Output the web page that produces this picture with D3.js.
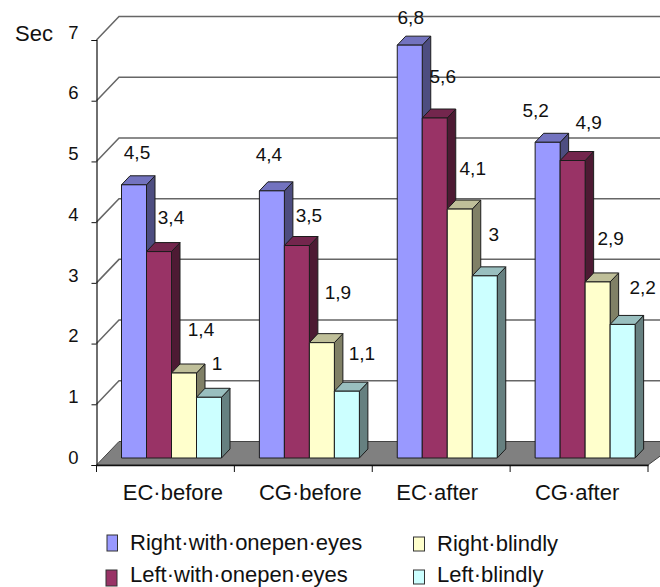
<!DOCTYPE html>
<html>
<head>
<meta charset="utf-8">
<script src="https://cdn.jsdelivr.net/npm/d3@7"></script>
<style>
html,body{margin:0;padding:0;background:#fff;overflow:hidden}
svg{display:block}
text{font-family:"Liberation Sans",Arial,sans-serif;fill:#111}
</style>
</head>
<body>
<div id="chart"></div>
<script>
// Data
const categories = ["EC·before", "CG·before", "EC·after", "CG·after"];
const seriesNames = ["Right·with·onepen·eyes", "Left·with·onepen·eyes", "Right·blindly", "Left·blindly"];
const rightOpen = [4.5, 4.4, 6.8, 5.2];
const leftOpen = [3.4, 3.5, 5.6, 4.9];
const rightBlind = [1.4, 1.9, 4.1, 2.9];
const leftBlind = [1, 1.1, 3, 2.2];
const yTicks = [0, 1, 2, 3, 4, 5, 6, 7];
const seriesValues = [rightOpen, leftOpen, rightBlind, leftBlind];

// Style
const frontColors = ["#9999FF", "#993366", "#FFFFCC", "#CCFFFF"];
// Hand-placed data label offsets from the bar's top centre [series][category]
const labelNudge = [
  [[3,-33],[-3,-37],[1,-28],[-12,-32]],
  [[12,-34],[12,-30],[8,-42],[16,-38]],
  [[17,-44],[16,-50],[13,-41],[13,-44]],
  [[8,-34],[15,-38],[9,-42],[20,-37]]
];
const categoryLabelNudge = [7.5, 7, -4, -2];

const W = 660, H = 587;
const svg = d3.select("#chart").append("svg").attr("width", W).attr("height", H);

const axisX0 = 96.5, axisX1 = 648, axisY0 = 465, axisY7 = 40;
const wallDx = 22.5, wallDy = 23.5;   // oblique shift floor front → back wall
const barDx = 8.5, barDy = 9, barLift = 7, barInset = 25, barsWide = 100;

const x = d3.scaleBand().domain(categories).range([axisX0, axisX1]);
const xS = d3.scaleBand().domain(d3.range(4)).range([0, barsWide]);
const y = d3.scaleLinear().domain([0, 7]).range([axisY0, axisY7]);

// Gridlines: oblique stub on the side wall + horizontal line on the back wall
const grid = svg.append("g");
grid.selectAll("path").data(yTicks.filter(d => d > 0)).join("path")
  .attr("fill", "none").attr("stroke", "#666").attr("stroke-width", 1.5)
  .attr("d", d => `M${axisX0},${y(d)}L${axisX0 + wallDx},${y(d) - wallDy}L${W + 5},${y(d) - wallDy}`);

// Floor
svg.append("path")
  .attr("fill", "#808080").attr("stroke", "#444").attr("stroke-width", 1)
  .attr("d", `M${axisX0},${axisY0}L${axisX0 + wallDx},${axisY0 - wallDy}L${W + 20},${axisY0 - wallDy}L${axisX1},${axisY0}Z`);

// Bars
const flat = [];
seriesValues.forEach((vals, s) => vals.forEach((v, c) => flat.push({s, c, v})));
const barLeft = d => x(categories[d.c]) + barInset + xS(d.s);
const barRight = d => barLeft(d) + xS.bandwidth();
const barTop = d => y(d.v) - barLift;
const barBase = axisY0 - barLift;

const barG = svg.append("g").selectAll("g").data(flat.slice().sort((a, b) => a.c - b.c || a.s - b.s)).join("g")
  .attr("stroke", "#1c1c1c").attr("stroke-width", 1).attr("stroke-linejoin", "round");
barG.append("path") // side
  .attr("fill", d => { const c = d3.rgb(frontColors[d.s]); return d3.rgb(c.r * .5, c.g * .5, c.b * .5); })
  .attr("d", d => `M${barRight(d)},${barTop(d)}L${barRight(d) + barDx},${barTop(d) - barDy}L${barRight(d) + barDx},${barBase - barDy}L${barRight(d)},${barBase}Z`);
barG.append("path") // top
  .attr("fill", d => { const c = d3.rgb(frontColors[d.s]); return d3.rgb(c.r * .75, c.g * .75, c.b * .75); })
  .attr("d", d => `M${barLeft(d)},${barTop(d)}L${barLeft(d) + barDx},${barTop(d) - barDy}L${barRight(d) + barDx},${barTop(d) - barDy}L${barRight(d)},${barTop(d)}Z`);
barG.append("rect") // front
  .attr("fill", d => frontColors[d.s])
  .attr("x", barLeft).attr("y", barTop)
  .attr("width", xS.bandwidth()).attr("height", d => barBase - barTop(d));

// Axes
const yAxis = d3.axisLeft(y).tickValues(yTicks).tickSize(5).tickPadding(13).tickFormat(d3.format("d"));
const yG = svg.append("g").attr("transform", `translate(${axisX0},0)`).call(yAxis);
yG.select(".domain").attr("stroke", "#111").attr("stroke-width", 1.2);
yG.selectAll(".tick line").attr("stroke", "#111");
yG.selectAll("text").attr("font-size", 18.5).attr("fill", "#222").attr("dy", "-0.1em");

const xAxis = d3.axisBottom(x).tickSize(0).tickPadding(19);
const xG = svg.append("g").attr("transform", `translate(0,${axisY0})`).call(xAxis);
xG.select(".domain").attr("stroke", "#111").attr("stroke-width", 1.5);
xG.selectAll("text").attr("font-size", 22).attr("fill", "#111")
  .attr("dx", (d, i) => categoryLabelNudge[i]);
svg.append("g").selectAll("line")
  .data(categories.map(c => x(c)).concat(axisX1)).join("line")
  .attr("x1", d => d).attr("x2", d => d).attr("y1", axisY0).attr("y2", axisY0 + 7)
  .attr("stroke", "#111");

svg.append("text").attr("x", 15).attr("y", 41).attr("font-size", 22).text("Sec");

// Data labels
const fmt = v => String(v).replace(".", ",");
svg.append("g").selectAll("text").data(flat).join("text")
  .attr("x", d => (barLeft(d) + barRight(d)) / 2 + labelNudge[d.s][d.c][0])
  .attr("y", d => barTop(d) + labelNudge[d.s][d.c][1])
  .attr("dy", "0.36em").attr("text-anchor", "middle")
  .attr("font-size", 19).attr("fill", "#222")
  .text(d => fmt(d.v));

// Legend
const legendPos = [
  {sx: 107, sy: 535, sw: 10.5, sh: 16, tx: 130, ty: 550},
  {sx: 106, sy: 570, sw: 11, sh: 16, tx: 130, ty: 582},
  {sx: 413.5, sy: 537, sw: 11, sh: 14, tx: 437, ty: 551},
  {sx: 413.5, sy: 570, sw: 11, sh: 14, tx: 437, ty: 582}
];
const lg = svg.append("g").selectAll("g").data(seriesNames).join("g");
lg.append("rect")
  .attr("x", (d, i) => legendPos[i].sx).attr("y", (d, i) => legendPos[i].sy)
  .attr("width", (d, i) => legendPos[i].sw).attr("height", (d, i) => legendPos[i].sh)
  .attr("fill", (d, i) => frontColors[i]).attr("stroke", "#333");
lg.append("text")
  .attr("x", (d, i) => legendPos[i].tx).attr("y", (d, i) => legendPos[i].ty)
  .attr("font-size", 22).attr("fill", "#111")
  .text(d => d);
</script>
</body>
</html>
